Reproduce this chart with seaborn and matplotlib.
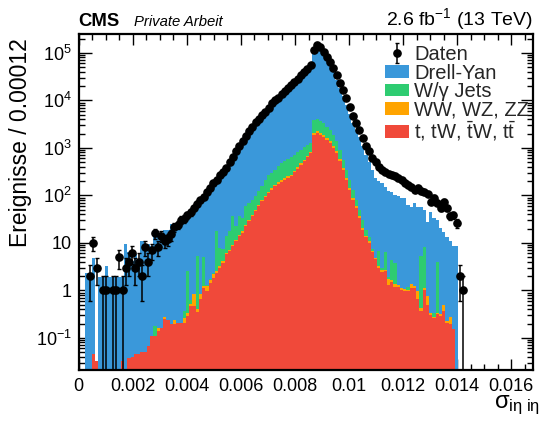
import numpy as np
import pandas as pd
import matplotlib
matplotlib.use("Agg")
import matplotlib.pyplot as plt
import seaborn as sns
from matplotlib.ticker import LogLocator, MultipleLocator, FuncFormatter, NullFormatter
from matplotlib.patches import Patch

sns.set_theme(style="ticks")
plt.rcParams['font.family'] = ['Liberation Sans', 'DejaVu Sans']
plt.rcParams['mathtext.fontset'] = 'custom'
plt.rcParams['mathtext.rm'] = 'Liberation Sans'
plt.rcParams['mathtext.it'] = 'Liberation Sans:italic'
plt.rcParams['mathtext.bf'] = 'Liberation Sans:bold'
plt.rcParams['mathtext.sf'] = 'Liberation Sans'

# ---------------- data (bin width 0.00012, bins start at 0) ----------------
bin_width = 0.00012

data_counts = [0, 0, 0, 2, 10, 3, 0, 1, 1, 0,
               1, 1, 5, 1, 3, 4, 6, 3, 4, 2,
               8, 4, 7, 16, 8, 14, 11, 12, 15, 22,
               24, 31, 32, 38, 44, 53, 67, 78, 94, 115,
               146, 178, 215, 273, 316, 382, 510, 653, 871, 1120,
               1420, 1810, 2300, 2810, 3550, 4100, 5000, 5770, 6960, 8900,
               10300, 11300, 13700, 15900, 18400, 21300, 24600, 28300, 34600, 40000,
               46000, 56000, 115000, 147000, 134000, 105000, 83000, 65000, 48400, 34600,
               23400, 16600, 11300, 7350, 4760, 3390, 2410, 1630, 1120, 871,
               620, 510, 403, 347, 316, 287, 273, 260, 235, 215,
               186, 169, 153, 132, 146, 126, 120, 109, 74, 90,
               70, 53, 74, 53, 36, 38, 26, 2, 1]

drell_yan = [0, 0, 2.3, 2.3, 4.85, 0, 1.9, 1.9, 3.2, 1.9,
             1.9, 1.9, 1.9, 1.9, 9.3, 6.3, 4.1, 5.7, 3.2, 10.9,
             6.7, 9.3, 8.4, 13.6, 14.8, 12.8, 18.7, 18.7, 24.8, 17.7,
             25.8, 27.8, 27.6, 29.5, 35.4, 42, 48.7, 63, 73, 94,
             118, 146, 162, 220, 261, 311, 412, 519, 717, 914,
             1176, 1491, 1911, 2339, 2974, 3438, 4195, 4835, 5827, 7503,
             8753, 9594, 11720, 13660, 16020, 18547, 21580, 24970, 30585, 35440,
             40830, 49710, 106100, 140900, 126280, 96610, 72210, 53590, 38100, 25580,
             17485, 11935, 7753, 4985, 3258, 2329, 1670, 1089, 701, 496,
             340, 232, 198, 183, 144, 123, 115.5, 100, 93.7, 87,
             89, 63, 56.6, 66.7, 57, 52.8, 42, 26.2, 43.7, 33.7,
             27.1, 20.7, 16.5, 12.8, 10.7, 8.25, 8.4, 0, 0]

w_gamma_jets = [0, 0, 0, 0, 0, 0, 0, 0, 0, 0,
                0, 0, 0, 0, 0, 0, 0, 0, 0, 0,
                0, 0, 0, 0.07, 0, 0, 0, 0, 0, 0,
                0, 0, 0.1, 2.2, 0.1, 0.03, 4.9, 0.03, 3.7, 0.07,
                0.05, 0.1, 15, 4.6, 3.2, 7.7, 10.4, 27, 10.8, 21.6,
                16.5, 35, 38, 42, 47, 59, 75, 117, 153, 156,
                181, 219, 271, 310, 329, 380, 394, 439, 444, 493,
                485, 466, 1880, 1865, 1700, 1550, 1205, 1030, 820, 575,
                340, 194, 117, 74, 45, 22, 13.5, 10.6, 5, 2.8,
                0.5, 0.05, 3.3, 0.35, 3.6, 0.2, 2.8, 2.5, 0, 0,
                0, 0.12, 0, 0, 0, 4.8, 6.9, 0, 0, 0.05,
                3.55, 0, 0, 0, 0, 0, 0, 0, 0]

diboson = [0, 0, 0, 0, 0, 0, 0, 0, 0, 0,
           0, 0, 0, 0, 0, 0, 0, 0, 0, 0,
           0, 0, 0, 0, 0.02, 0, 0.02, 0, 0, 0.04,
           0, 0, 0.05, 0.05, 0.05, 0.35, 0.05, 0.17, 0.1, 0.26,
           0.2, 0.35, 0.2, 0.25, 0.3, 0.4, 0.5, 0.6, 0.8, 1.0,
           1.2, 1.6, 2.0, 2.6, 3.2, 4.1, 5.2, 6.4, 7.8, 9.2,
           11, 12, 14, 15, 16, 18, 21, 26, 31, 37,
           45, 54, 130, 145, 130, 120, 105, 90, 70, 55,
           38, 24, 15, 9, 6, 4, 2.5, 1.4, 1.0, 0.8,
           0.5, 0.35, 0.3, 0.25, 0.2, 0.4, 0.15, 0.15, 0.1, 0.1,
           0.1, 0.08, 0.25, 0.15, 0.3, 0.05, 0.1, 0.25, 0.03, 0.02,
           0.03, 0.03, 0.14, 0.02, 0.08, 0, 0, 0, 0]

top_quark = [0, 0, 0, 0, 0.045, 0.033, 0, 0, 0, 0,
             0, 0, 0, 0.033, 0, 0.037, 0.04, 0.045, 0.045, 0.05,
             0.05, 0.068, 0.11, 0.11, 0.14, 0.16, 0.25, 0.24, 0.2, 0.2,
             0.21, 0.21, 0.21, 0.29, 0.47, 0.47, 0.35, 0.65, 1.14, 0.97,
             1.45, 1.85, 2.35, 3.0, 3.8, 5.7, 6.7, 8.5, 10.9, 13.8,
             16.3, 22.5, 28.6, 36, 46, 59, 75, 92, 112, 132,
             155, 175, 195, 215, 235, 255, 305, 365, 440, 530,
             640, 770, 1890, 2090, 1890, 1720, 1480, 1290, 1010, 790,
             537, 347, 215, 132, 81, 55, 34, 19, 13, 10,
             6.3, 4.5, 3.0, 2.4, 2.5, 1.3, 1.5, 1.2, 1.2, 1.0,
             0.95, 0.95, 1.1, 1.1, 0.65, 0.37, 1.0, 0.5, 0.3, 0.26,
             0.31, 0.29, 0.36, 0.21, 0.2, 0.15, 0, 0, 0]

process_labels = ["Drell-Yan", "W/γ Jets", "WW, WZ, ZZ",
                  r"t, tW, $\mathrm{\bar{t}}$W, t$\mathrm{\bar{t}}$"]
process_colors = ["#3a98da", "#2ecc71", "#ffa400", "#f0493a"]

x_ticks = [0, 0.002, 0.004, 0.006, 0.008, 0.01, 0.012, 0.014, 0.016]

# ---------------- build long table ----------------
n_bins = len(drell_yan)
edges = [i * bin_width for i in range(n_bins + 1)]
centers = np.array([(i + 0.5) * bin_width for i in range(n_bins)])

frames = []
for lab, vals in zip(process_labels, [drell_yan, w_gamma_jets, diboson, top_quark]):
    frames.append(pd.DataFrame({"x": centers, "w": np.asarray(vals, float), "process": lab}))
df = pd.concat(frames, ignore_index=True)

# ---------------- figure ----------------
W, H = 541, 421
fig = plt.figure(figsize=(W / 100, H / 100), dpi=100)
ax_l, ax_r, ax_t, ax_b = 78.7, 533.0, 34.0, 370.0
ax = fig.add_axes([ax_l / W, 1 - ax_b / H, (ax_r - ax_l) / W, (ax_b - ax_t) / H])

sns.histplot(data=df, x="x", weights="w", hue="process", hue_order=process_labels,
             palette=dict(zip(process_labels, process_colors)), multiple="stack",
             bins=edges, element="bars", fill=True, alpha=1, linewidth=0,
             legend=False, ax=ax)
for p in ax.patches:
    p.set_antialiased(False)
    p.set_linewidth(0)

counts = np.asarray(data_counts, float)
nd = len(counts)
dcent = (np.arange(nd) + 0.5) * bin_width
m = counts > 0
eb = ax.errorbar(dcent[m], counts[m], yerr=np.sqrt(counts[m]), fmt="o", color="black",
                 ms=5.2, elinewidth=1.1, capsize=1.6, capthick=1.0, zorder=5)

ax.set_yscale("log")
ax.set_ylim(0.021, 2.5e5)
ax.set_xlim(0, 0.0168)

# ticks
ax.xaxis.set_major_locator(matplotlib.ticker.FixedLocator(x_ticks))
ax.xaxis.set_minor_locator(MultipleLocator(0.0005))
ax.xaxis.set_major_formatter(FuncFormatter(lambda v, p: f"{v:g}"))
ax.xaxis.set_minor_formatter(NullFormatter())
ax.yaxis.set_major_locator(LogLocator(base=10, numticks=20))
ax.yaxis.set_minor_locator(LogLocator(base=10, subs=np.arange(2, 10), numticks=40))
ax.yaxis.set_minor_formatter(NullFormatter())


def yfmt(v, p):
    e = int(round(np.log10(v)))
    if e == 0:
        return "1"
    if e == 1:
        return "10"
    return r"$10^{%d}$" % e


ax.yaxis.set_major_formatter(FuncFormatter(yfmt))
ax.tick_params(which="both", direction="in", top=True, right=True, width=1.0,
               color="black", labelsize=13, labelcolor="black")
ax.tick_params(axis="x", which="major", length=8, pad=6)
ax.tick_params(axis="x", which="minor", length=4)
ax.tick_params(axis="y", which="major", length=9, pad=5)
ax.tick_params(axis="y", which="minor", length=4.5)
for s in ax.spines.values():
    s.set_linewidth(1.6)
    s.set_color("black")

ax.set_xlabel(r"$\mathrm{σ}_{\mathrm{iη\ iη}}$", fontsize=17, color="black")
ax.xaxis.set_label_coords((540 - ax_l) / (ax_r - ax_l), -(394 - ax_b) / (ax_b - ax_t))
ax.xaxis.label.set_horizontalalignment("right")
ax.xaxis.label.set_verticalalignment("top")

ax.set_ylabel("Ereignisse / 0.00012", fontsize=16.5, color="black")
ax.yaxis.label.set_horizontalalignment("right")
ax.yaxis.set_label_coords((32 - ax_l) / (ax_r - ax_l), (ax_b - 38) / (ax_b - ax_t))

# legend
handles = [eb] + [Patch(facecolor=c, edgecolor=c, lw=0) for c in process_colors]
labels = ["Daten"] + process_labels
leg = ax.legend(handles, labels, loc="upper left", bbox_to_anchor=(385 / W, 1 - 45 / H),
                bbox_transform=fig.transFigure, frameon=False, fontsize=14.5,
                handlelength=1.2, handleheight=0.6, handletextpad=0.25,
                labelspacing=-0.02, borderpad=0, borderaxespad=0)

# header texts
fig.text(ax_l / W, 1 - 25.5 / H, "CMS", fontsize=13.3, fontweight="bold", ha="left",
         va="baseline", color="black")
fig.text(134 / W, 1 - 25.5 / H, "Private Arbeit", fontsize=10.7, style="italic",
         ha="left", va="baseline", color="black")
fig.text(ax_r / W, 1 - 25.5 / H, r"2.6 fb$^{-1}$ (13 TeV)", fontsize=14, ha="right",
         va="baseline", color="black")

fig.savefig("out.png", dpi=100)
